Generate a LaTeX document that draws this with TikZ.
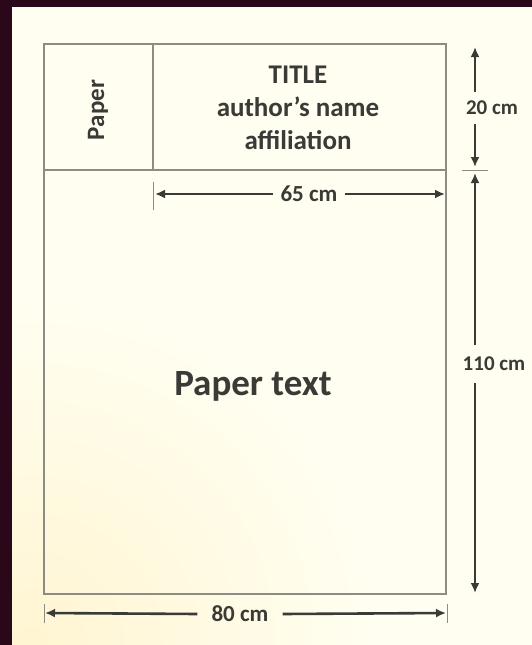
\documentclass[tikz,border=0pt]{standalone}
\usepackage{fontspec}
\setmainfont{Carlito}
\usepackage{xcolor}
\usepackage{tikz}
\usetikzlibrary{arrows.meta,calc}
\definecolor{PosterFrame}{RGB}{42,8,26}
\definecolor{PosterCream}{RGB}{255,254,240}
\definecolor{WarmTint}{RGB}{255,245,210}
\definecolor{BorderGray}{RGB}{140,140,132}
\definecolor{InkGray}{RGB}{58,58,54}

\begin{document}
\begin{tikzpicture}[>=Latex,x=1pt,y=-1pt,
  dimline/.style={-{Latex[length=10pt,width=9pt]},line width=2.6pt,draw=InkGray},
  dimtick/.style={draw=BorderGray,line width=0.9pt},
  dimlabel/.style={text=InkGray,font=\fontsize{23}{25}\selectfont\bfseries,inner sep=0pt}]
  \useasboundingbox (0,0) rectangle (532,645);
  \fill[PosterFrame] (0,0) rectangle (532,645);
  \fill[PosterCream] (12,7) rectangle (532,645);
  \begin{scope}
    \clip (12,7) rectangle (532,645);
    \shade[inner color=WarmTint,outer color=PosterCream] (30,645) circle (340);
  \end{scope}
  % poster outline
  \coordinate (TL) at (44,44);
  \coordinate (BR) at (446,594);
  \draw[BorderGray,line width=1.8pt] (TL) rectangle (BR);
  \draw[BorderGray,line width=1.8pt] (44,170) -- (446,170);
  \draw[BorderGray,line width=1.8pt] (153,44) -- (153,170);
  \node[rotate=90,text=InkGray,font=\fontsize{25}{27}\selectfont\bfseries] (side) at (98,110) {Paper};
  \node[text=InkGray,align=center,font=\fontsize{27}{33}\selectfont\bfseries] (head) at (298,108)
    {TITLE\\author’s name\\affiliation};
  \node[text=InkGray,font=\fontsize{37}{40}\selectfont\bfseries] (body) at (253,386) {Paper text};
  % width of the text column
  \coordinate (w65l) at (155,194);
  \coordinate (w65r) at (445,194);
  \draw[dimtick] (153,182) -- (153,210);
  \node[dimlabel,inner xsep=7pt] (w65) at (309,194) {65 cm};
  \draw[dimline] (w65.west) -- (w65l);
  \draw[dimline] (w65.east) -- (w65r);
  % full width
  \coordinate (w80l) at (45,613);
  \coordinate (w80r) at (446,613);
  \draw[dimtick] (44,604) -- (44,623);
  \draw[dimtick] (447,604) -- (447,623);
  \node[dimlabel,inner xsep=14pt] (w80) at (240,614) {80 cm};
  \draw[dimline] (w80.west) -- (w80l);
  \draw[dimline] (w80.east) -- (w80r);
  % heights
  \coordinate (h20t) at (475,47);
  \coordinate (h20b) at (475,167);
  \coordinate (h110t) at (475,173);
  \coordinate (h110b) at (475,593);
  \draw[dimtick] (462,170) -- (488,170);
  \node[dimlabel,font=\fontsize{21}{23}\selectfont\bfseries,inner ysep=9pt] (h20) at (492,108) {20 cm};
  \draw[dimline] (h20.north -| h20t) -- (h20t);
  \draw[dimline] (h20.south -| h20b) -- (h20b);
  \node[dimlabel,font=\fontsize{21}{23}\selectfont\bfseries,inner ysep=12pt] (h110) at (494,364) {110 cm};
  \draw[dimline] (h110.north -| h110t) -- (h110t);
  \draw[dimline] (h110.south -| h110b) -- (h110b);
\end{tikzpicture}
\end{document}
